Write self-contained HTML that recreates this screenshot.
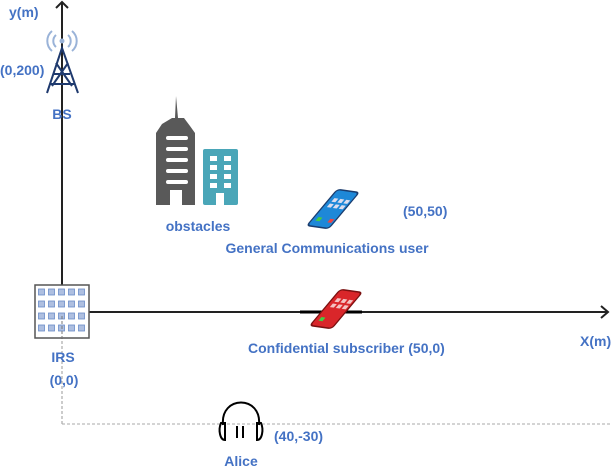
<!DOCTYPE html>
<html><head><style>
body{margin:0;background:#fff}
svg text{font-family:"Liberation Sans",sans-serif;font-weight:bold;fill:#4472C4;font-size:14px}
</style></head><body>
<svg width="614" height="466" viewBox="0 0 614 466" xmlns="http://www.w3.org/2000/svg">
<line x1="62" y1="2" x2="62" y2="290" stroke="#222" stroke-width="2"/>
<polyline points="56,8 62,2 68,8" fill="none" stroke="#222" stroke-width="2"/>
<line x1="89" y1="312" x2="608" y2="312" stroke="#222" stroke-width="2"/>
<polyline points="601,306 608,312 601,318" fill="none" stroke="#222" stroke-width="2"/>
<line x1="300" y1="312" x2="362" y2="312" stroke="#000" stroke-width="3"/>
<line x1="62" y1="316" x2="62" y2="424" stroke="#999" stroke-dasharray="3,2"/>
<line x1="62" y1="424" x2="610" y2="424" stroke="#aaa" stroke-dasharray="3,2"/>
<g stroke="#1f3a6e" stroke-width="2" fill="none">
<polyline points="47,93 62,48 78,93"/>
<line x1="53" y1="74" x2="70" y2="74"/><line x1="50" y1="84" x2="74" y2="84"/>
<line x1="56" y1="63" x2="72" y2="86"/><line x1="68" y1="63" x2="52" y2="86"/>
</g>
<circle cx="62" cy="41" r="2.5" fill="#9ab3d8"/>
<g stroke="#9ab3d8" stroke-width="2" fill="none">
<path d="M56,35 a8,8 0 0 0 0,12"/><path d="M68,35 a8,8 0 0 1 0,12"/>
<path d="M52,31 a13,13 0 0 0 0,20"/><path d="M72,31 a13,13 0 0 1 0,20"/>
</g>
<path d="M176,96 L178,118 L184,118 L190,126 L195,133 L195,205 L182,205 L182,190 L170,190 L170,205 L156,205 L156,133 L162,124 L172,118 L175,118 Z" fill="#595959"/>
<g fill="#fff"><rect x="166" y="136" width="22" height="4" rx="2"/><rect x="166" y="147" width="22" height="4" rx="2"/><rect x="166" y="158" width="22" height="4" rx="2"/><rect x="166" y="169" width="22" height="4" rx="2"/><rect x="166" y="180" width="22" height="4" rx="2"/></g>
<rect x="203" y="149" width="35" height="56" rx="2" fill="#4aa6b8"/>
<g fill="#fff">
<rect x="210" y="156" width="7" height="5"/><rect x="224" y="156" width="7" height="5"/>
<rect x="210" y="165" width="7" height="5"/><rect x="224" y="165" width="7" height="5"/>
<rect x="210" y="174" width="7" height="5"/><rect x="224" y="174" width="7" height="5"/>
<rect x="210" y="183" width="7" height="5"/><rect x="224" y="183" width="7" height="5"/>
<rect x="216" y="193" width="8" height="12"/>
</g>
<g transform="translate(333,209) rotate(8) skewX(-32)">
<rect x="-11" y="-20" width="22" height="40" rx="3" fill="#1e88d8" stroke="#1a3c6e" stroke-width="1.5"/>
<g fill="#dde"><rect x="-7" y="-11" width="4" height="4"/><rect x="-1" y="-11" width="4" height="4"/><rect x="5" y="-11" width="4" height="4"/><rect x="-7" y="-5" width="4" height="4"/><rect x="-1" y="-5" width="4" height="4"/><rect x="5" y="-5" width="4" height="4"/></g>
<rect x="-7" y="10" width="4" height="4" fill="#4c4"/><rect x="5" y="10" width="4" height="4" fill="#e44"/>
</g>
<g transform="translate(336,309) rotate(8) skewX(-32)">
<rect x="-11" y="-20" width="22" height="40" rx="3" fill="#d9262a" stroke="#7a1010" stroke-width="1.5"/>
<g fill="#f4c4c4"><rect x="-7" y="-11" width="4" height="4"/><rect x="-1" y="-11" width="4" height="4"/><rect x="5" y="-11" width="4" height="4"/><rect x="-7" y="-5" width="4" height="4"/><rect x="-1" y="-5" width="4" height="4"/><rect x="5" y="-5" width="4" height="4"/></g>
<rect x="-7" y="10" width="4" height="4" fill="#4c4"/>
</g>
<rect x="35" y="285" width="54" height="53" fill="#fff" stroke="#555" stroke-width="1.5"/>
<g fill="#aebfe0" stroke="#6a8cc8" stroke-width="0.8">
<rect x="38.5" y="289" width="6" height="6"/><rect x="48.5" y="289" width="6" height="6"/><rect x="58.5" y="289" width="6" height="6"/><rect x="68.5" y="289" width="6" height="6"/><rect x="78.5" y="289" width="6" height="6"/>
<rect x="38.5" y="301" width="6" height="6"/><rect x="48.5" y="301" width="6" height="6"/><rect x="58.5" y="301" width="6" height="6"/><rect x="68.5" y="301" width="6" height="6"/><rect x="78.5" y="301" width="6" height="6"/>
<rect x="38.5" y="313" width="6" height="6"/><rect x="48.5" y="313" width="6" height="6"/><rect x="58.5" y="313" width="6" height="6"/><rect x="68.5" y="313" width="6" height="6"/><rect x="78.5" y="313" width="6" height="6"/>
<rect x="38.5" y="325" width="6" height="6"/><rect x="48.5" y="325" width="6" height="6"/><rect x="58.5" y="325" width="6" height="6"/><rect x="68.5" y="325" width="6" height="6"/><rect x="78.5" y="325" width="6" height="6"/>
</g>
<line x1="62" y1="316" x2="62" y2="338" stroke="#777" stroke-dasharray="3,2"/>
<g fill="none" stroke="#000" stroke-width="2">
<path d="M223,425 C220,395 262,395 259,425"/>
<path d="M225,423 L221,423 C218,430 220,440 225,440 Z"/>
<path d="M257,423 L261,423 C264,430 262,440 257,440 Z"/>
<line x1="237" y1="426" x2="237" y2="438"/><line x1="243" y1="426" x2="243" y2="438"/>
</g>
<text x="9" y="17">y(m)</text>
<text x="0" y="75">(0,200)</text>
<text x="62" y="119" text-anchor="middle">BS</text>
<text x="198" y="231" text-anchor="middle">obstacles</text>
<text x="403" y="216">(50,50)</text>
<text x="327" y="253" text-anchor="middle">General Communications user</text>
<text x="248" y="353">Confidential subscriber (50,0)</text>
<text x="580" y="346">X(m)</text>
<text x="63" y="362" text-anchor="middle">IRS</text>
<text x="64" y="385" text-anchor="middle">(0,0)</text>
<text x="274" y="441">(40,-30)</text>
<text x="241" y="466" text-anchor="middle">Alice</text>
</svg>
</body></html>
